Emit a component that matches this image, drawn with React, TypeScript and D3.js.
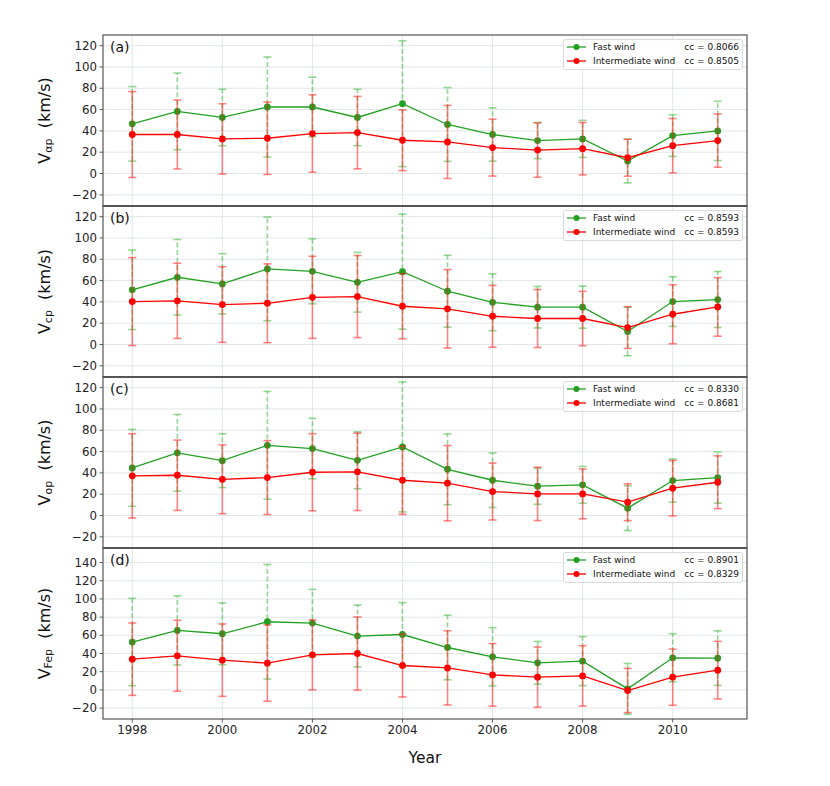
import React from 'react';
import * as d3 from 'd3';

const years = [1998, 1999, 2000, 2001, 2002, 2003, 2004, 2005, 2006, 2007, 2008, 2009, 2010, 2011];
const xTicks = [1998, 2000, 2002, 2004, 2006, 2008, 2010];

// Panel (a) V_alpha p
const fastA = [46.6, 58.3, 52.6, 62.4, 62.4, 52.6, 65.5, 46.0, 36.6, 30.9, 32.5, 11.7, 35.6, 40.0];
const fastAErr = [35, 36, 26.5, 47, 28, 26.5, 59, 34.7, 25, 17, 17.4, 20.5, 19.6, 27.8];
const interA = [36.6, 36.6, 32.5, 33.1, 37.5, 38.4, 31.2, 29.6, 24.3, 22.0, 23.3, 14.8, 26.1, 30.9];
const interAErr = [40.3, 32.3, 33, 34, 36.3, 34, 28.5, 34.3, 26.7, 25.5, 24.6, 17.3, 25.5, 25];

// Panel (b) V_cp
const fastB = [51.3, 63.1, 56.9, 70.9, 68.7, 58.4, 68.4, 50.0, 39.6, 35.0, 35.0, 12.2, 40.3, 42.2];
const fastBErr = [37.3, 35.5, 28.3, 48.7, 30.5, 28, 54, 33.7, 26.7, 19.5, 19.7, 22.8, 23.3, 26.3];
const interB = [40.3, 41.0, 37.5, 38.7, 44.3, 45.0, 35.9, 33.5, 26.5, 24.4, 24.4, 15.9, 28.4, 35.3];
const interBErr = [41.3, 35.3, 35.5, 37, 38.5, 38.5, 30.5, 36.8, 29, 27.2, 25.5, 19.6, 27.7, 27.5];

// Panel (c) V_op
const fastC = [44.7, 58.8, 51.5, 65.9, 62.8, 51.8, 64.4, 43.4, 33.1, 27.5, 28.8, 6.9, 32.8, 35.6];
const fastCErr = [36.1, 36, 25.3, 50.6, 28.4, 26.7, 61, 33.3, 25.6, 17, 17.3, 21, 20.3, 24];
const interC = [37.2, 37.8, 34.0, 35.6, 40.6, 41.0, 33.1, 30.3, 22.5, 20.3, 20.3, 12.5, 25.6, 31.2];
const interCErr = [39.6, 33, 32.3, 34.7, 36.2, 36.3, 32, 35.3, 26.7, 25, 23.4, 17.3, 26, 24.8];

// Panel (d) V_Fep
const fastD = [52.6, 65.4, 61.7, 74.9, 73.5, 59.2, 60.9, 46.6, 36.4, 29.8, 31.6, 1.1, 35.3, 34.9];
const fastDErr = [48, 38, 34, 63, 37, 34, 35, 35.5, 32, 23.5, 27, 28, 26.5, 30];
const interD = [33.8, 37.5, 32.7, 29.4, 38.6, 40.0, 26.8, 24.2, 16.5, 14.0, 15.4, -0.7, 14.0, 21.7];
const interDErr = [39.8, 39, 39.8, 41.9, 38.6, 40.2, 34.6, 40.8, 34.4, 33.1, 33.2, 24.3, 30.9, 31.7];

const panelLabels = ['(a)', '(b)', '(c)', '(d)'];
const subscripts = ['αp', 'cp', 'op', 'Fep'];
const ccFast = ['0.8066', '0.8593', '0.8330', '0.8901'];
const ccInter = ['0.8505', '0.8593', '0.8681', '0.8329'];
const yTicksABC = [-20, 0, 20, 40, 60, 80, 100, 120];
const yTicksD = [-20, 0, 20, 40, 60, 80, 100, 120, 140];
const yDomains: [number, number][] = [[-30.5, 130], [-30.5, 130], [-30.5, 130], [-32, 156]];

const panels = [
  { fast: fastA, fastErr: fastAErr, inter: interA, interErr: interAErr, ticks: yTicksABC },
  { fast: fastB, fastErr: fastBErr, inter: interB, interErr: interBErr, ticks: yTicksABC },
  { fast: fastC, fastErr: fastCErr, inter: interC, interErr: interCErr, ticks: yTicksABC },
  { fast: fastD, fastErr: fastDErr, inter: interD, interErr: interDErr, ticks: yTicksD },
];

const GREEN = '#22a022';
const RED = '#ff0000';
const FONT = 'DejaVu Sans, sans-serif';

const fmt = (v: number) => (v < 0 ? '\u2212' + Math.abs(v) : String(v));

export default function App() {
  const W = 830, H = 786;
  const left = 103, right = 747, top = 35, panelH = 171;
  const x = d3.scaleLinear().domain([1997.35, 2011.65]).range([left, right]);
  const cap = 4;

  return (
    <svg width={W} height={H} style={{ position: 'absolute', left: 0, top: 0, background: '#fff' }} fontFamily={FONT}>
      <rect x={0} y={0} width={W} height={H} fill="#fff" />
      {panels.map((p, i) => {
        const y0 = top + i * panelH;
        const y = d3.scaleLinear().domain(yDomains[i]).range([y0 + panelH, y0]);
        const line = d3.line<number>().x((_, k) => x(years[k])).y((d) => y(d));
        const series = [
          { vals: p.fast, errs: p.fastErr, color: GREEN, bar: '#3cb83c', dash: '5,2.5' },
          { vals: p.inter, errs: p.interErr, color: RED, bar: '#ff2020', dash: undefined as string | undefined },
        ];
        return (
          <g key={i}>
            {xTicks.map((t) => (
              <line key={'gx' + t} x1={x(t)} x2={x(t)} y1={y0} y2={y0 + panelH} stroke="#dfe3e3" strokeWidth={0.9} />
            ))}
            {p.ticks.map((t) => (
              <line key={'gy' + t} x1={left} x2={right} y1={y(t)} y2={y(t)} stroke="#dfe3e3" strokeWidth={0.9} />
            ))}
            {p.ticks.map((t) => (
              <g key={'ty' + t}>
                <line x1={left - 3.5} x2={left} y1={y(t)} y2={y(t)} stroke="#333" strokeWidth={0.8} />
                <text x={left - 6} y={y(t)} textAnchor="end" dominantBaseline="central" fontSize={11.8} fill="#222">
                  {fmt(t)}
                </text>
              </g>
            ))}
            {series.map((s, si) => (
              <g key={'s' + si}>
                <g stroke={s.bar} strokeOpacity={0.55} strokeWidth={1.6}>
                  {s.vals.map((v, k) => {
                    const xx = x(years[k]);
                    const lo = y(v - s.errs[k]);
                    const hi = y(v + s.errs[k]);
                    return (
                      <g key={k}>
                        <line x1={xx} x2={xx} y1={lo} y2={hi} strokeDasharray={s.dash} />
                        <line x1={xx - cap} x2={xx + cap} y1={lo} y2={lo} />
                        <line x1={xx - cap} x2={xx + cap} y1={hi} y2={hi} />
                      </g>
                    );
                  })}
                </g>
                <path d={line(s.vals) || ''} fill="none" stroke={s.color} strokeWidth={1.3} />
                {s.vals.map((v, k) => (
                  <circle key={k} cx={x(years[k])} cy={y(v)} r={3.4} fill={s.color} />
                ))}
              </g>
            ))}
            <text x={110} y={y0 + 12} fontSize={14} fill="#111" dominantBaseline="central">
              {panelLabels[i]}
            </text>
            <g>
              <rect x={563.5} y={y0 + 4.5} width={179} height={30} rx={2} fill="#fff" fillOpacity={0.85} stroke="#d0d0d0" strokeWidth={0.8} />
              {[
                { c: GREEN, label: 'Fast wind', cc: ccFast[i] },
                { c: RED, label: 'Intermediate wind', cc: ccInter[i] },
              ].map((e, ei) => {
                const ry = y0 + 12 + ei * 14;
                return (
                  <g key={ei}>
                    <line x1={567} x2={586} y1={ry} y2={ry} stroke={e.c} strokeWidth={1.3} />
                    <circle cx={576.5} cy={ry} r={3} fill={e.c} />
                    <text x={593} y={ry} fontSize={9} dominantBaseline="central" fill="#111">
                      {e.label}
                    </text>
                    <text x={739} y={ry} fontSize={9} textAnchor="end" dominantBaseline="central" fill="#111">
                      {'cc = ' + e.cc}
                    </text>
                  </g>
                );
              })}
            </g>
            <text
              transform={`translate(44,${y0 + panelH / 2}) rotate(-90)`}
              textAnchor="middle"
              dominantBaseline="central"
              fontSize={16}
              fill="#111"
            >
              V
              <tspan fontSize={11} dy={4}>{subscripts[i]}</tspan>
              <tspan dy={-4}>{'\u00a0 (km/s)'}</tspan>
            </text>
            <rect x={left} y={y0} width={right - left} height={panelH} fill="none" stroke="#555" strokeWidth={1.2} />
          </g>
        );
      })}
      {[1, 2, 3].map((i) => (
        <line key={'sep' + i} x1={left} x2={right} y1={top + i * panelH} y2={top + i * panelH} stroke="#555" strokeWidth={1.8} />
      ))}
      {xTicks.map((t) => (
        <g key={'tx' + t}>
          <line x1={x(t)} x2={x(t)} y1={top + 4 * panelH} y2={top + 4 * panelH + 3.5} stroke="#333" strokeWidth={0.8} />
          <text x={x(t)} y={top + 4 * panelH + 11} textAnchor="middle" dominantBaseline="central" fontSize={11.8} fill="#222">
            {t}
          </text>
        </g>
      ))}
      <text x={(left + right) / 2} y={758} textAnchor="middle" dominantBaseline="central" fontSize={15.5} fill="#111">
        Year
      </text>
    </svg>
  );
}
